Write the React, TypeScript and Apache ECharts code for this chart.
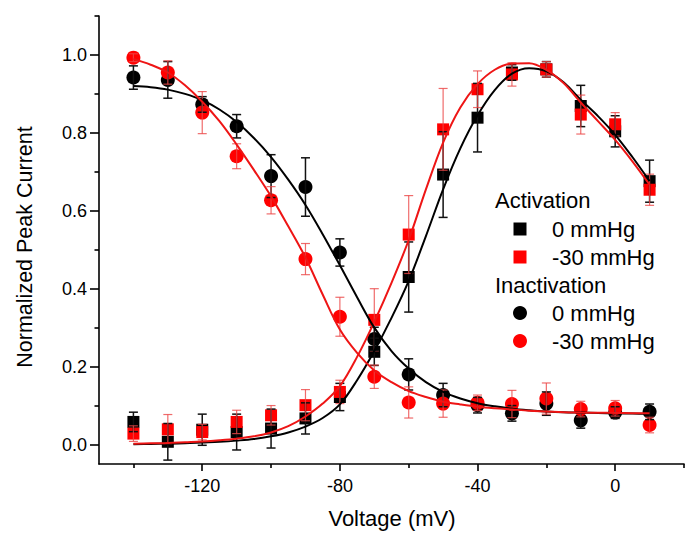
import React, { useEffect, useRef } from "react";
import * as echarts from "echarts";

// Measured voltages (mV)
const voltages = [-140, -130, -120, -110, -100, -90, -80, -70, -60, -50, -40, -30, -20, -10, 0, 10];

// Activation, 0 mmHg (black squares)
const actBlack = [0.058, 0.007, 0.038, 0.032, 0.041, 0.067, 0.122, 0.238, 0.43, 0.693, 0.839, 0.955, 0.963, 0.869, 0.804, 0.676];
const actBlackErr = [0.025, 0.047, 0.04, 0.046, 0.05, 0.04, 0.035, 0.035, 0.09, 0.11, 0.088, 0.02, 0.02, 0.053, 0.04, 0.054];
// Activation, -30 mmHg (red squares)
const actRed = [0.028, 0.039, 0.032, 0.058, 0.075, 0.101, 0.135, 0.32, 0.539, 0.809, 0.912, 0.95, 0.963, 0.847, 0.822, 0.654];
const actRedErr = [0.02, 0.038, 0.02, 0.03, 0.025, 0.04, 0.03, 0.08, 0.1, 0.105, 0.047, 0.03, 0.02, 0.05, 0.03, 0.04];
// Inactivation, 0 mmHg (black circles)
const inactBlack = [0.942, 0.936, 0.873, 0.817, 0.689, 0.661, 0.493, 0.271, 0.18, 0.127, 0.101, 0.08, 0.105, 0.062, 0.082, 0.084];
const inactBlackErr = [0.03, 0.047, 0.02, 0.03, 0.055, 0.075, 0.035, 0.03, 0.04, 0.03, 0.02, 0.02, 0.03, 0.02, 0.015, 0.02];
// Inactivation, -30 mmHg (red circles)
const inactRed = [0.993, 0.955, 0.852, 0.74, 0.627, 0.476, 0.328, 0.174, 0.108, 0.105, 0.107, 0.104, 0.118, 0.091, 0.093, 0.05];
const inactRedErr = [0.01, 0.03, 0.054, 0.032, 0.035, 0.04, 0.05, 0.03, 0.04, 0.035, 0.02, 0.035, 0.04, 0.02, 0.02, 0.02];

// Fitted curves, every 5 mV
const fitVoltages = [-140, -135, -130, -125, -120, -115, -110, -105, -100, -95, -90, -85, -80, -75, -70, -65, -60, -55, -50, -45, -40, -35, -30, -25, -20, -15, -10, -5, 0, 5, 10];
const actBlackFit = [0.001, 0.0015, 0.002, 0.003, 0.005, 0.007, 0.01, 0.014, 0.021, 0.031, 0.046, 0.068, 0.103, 0.165, 0.24, 0.325, 0.42, 0.535, 0.655, 0.76, 0.845, 0.91, 0.952, 0.966, 0.958, 0.93, 0.885, 0.843, 0.795, 0.738, 0.676];
const actRedFit = [0.002, 0.003, 0.004, 0.006, 0.008, 0.011, 0.015, 0.021, 0.031, 0.047, 0.072, 0.105, 0.15, 0.225, 0.315, 0.415, 0.525, 0.655, 0.775, 0.865, 0.925, 0.962, 0.978, 0.979, 0.962, 0.928, 0.878, 0.83, 0.782, 0.727, 0.667];
const inactBlackFit = [0.92, 0.917, 0.911, 0.9, 0.884, 0.86, 0.828, 0.787, 0.738, 0.68, 0.615, 0.54, 0.46, 0.378, 0.3, 0.24, 0.195, 0.16, 0.135, 0.118, 0.106, 0.098, 0.092, 0.088, 0.085, 0.083, 0.082, 0.081, 0.08, 0.0795, 0.079];
const inactRedFit = [0.99, 0.975, 0.955, 0.922, 0.88, 0.83, 0.77, 0.705, 0.637, 0.56, 0.48, 0.385, 0.295, 0.235, 0.19, 0.16, 0.137, 0.122, 0.11, 0.103, 0.097, 0.093, 0.09, 0.087, 0.085, 0.083, 0.082, 0.0815, 0.081, 0.0805, 0.08];

// Axis ticks
const xMajorTicks = [-120, -80, -40, 0];
const xMinorTicks = [-140, -100, -60, -20, 20];
const yMajorTicks = [0, 0.2, 0.4, 0.6, 0.8, 1.0];
const yMinorTicks = [0.1, 0.3, 0.5, 0.7, 0.9, 1.1];

const FONT = '"Liberation Sans", Arial, Helvetica, sans-serif';
const BLACK = "#000000";
const RED = "#ff0000";
const RED_LINE = "#ee1515";
const RED_ERR = "rgba(235,70,70,0.8)";

const pairs = (xs: number[], ys: number[]) => xs.map((x, i) => [x, ys[i]]);
const errData = (xs: number[], ys: number[], es: number[]) =>
  xs.map((x, i) => [x, ys[i] - es[i], ys[i] + es[i]]);

const errorSeries = (data: number[][], color: string, width: number) => ({
  type: "custom",
  data,
  encode: { x: 0, y: [1, 2] },
  xAxisIndex: 0,
  yAxisIndex: 0,
  z: 3,
  silent: true,
  renderItem: (_params: any, api: any) => {
    const x = api.value(0);
    const lo = api.coord([x, api.value(1)]);
    const hi = api.coord([x, api.value(2)]);
    const h = 4.5;
    const style = { stroke: color, lineWidth: width };
    return {
      type: "group",
      children: [
        { type: "line", shape: { x1: lo[0], y1: lo[1], x2: hi[0], y2: hi[1] }, style },
        { type: "line", shape: { x1: lo[0] - h, y1: lo[1], x2: lo[0] + h, y2: lo[1] }, style },
        { type: "line", shape: { x1: hi[0] - h, y1: hi[1], x2: hi[0] + h, y2: hi[1] }, style },
      ],
    };
  },
});

const scatterSeries = (data: number[][], color: string, symbol: string, size: number) => ({
  type: "scatter",
  data,
  symbol,
  symbolSize: size,
  itemStyle: { color, opacity: 1 },
  z: 2,
  silent: true,
});

const lineSeries = (data: number[][], color: string) => ({
  type: "line",
  data,
  smooth: 0.35,
  showSymbol: false,
  symbol: "none",
  lineStyle: { color, width: 2 },
  z: 4,
  silent: true,
});

const legendRows = [
  { kind: "header", text: "Activation", y: 200 },
  { kind: "rect", color: BLACK, text: "0 mmHg", y: 229 },
  { kind: "rect", color: RED, text: "-30 mmHg", y: 257 },
  { kind: "header", text: "Inactivation", y: 285 },
  { kind: "circle", color: BLACK, text: "0 mmHg", y: 313 },
  { kind: "circle", color: RED, text: "-30 mmHg", y: 341 },
];

export default function App() {
  const ref = useRef<HTMLDivElement>(null);

  useEffect(() => {
    document.body.style.margin = "0";
    if (!ref.current) return;
    const chart = echarts.init(ref.current, undefined, { renderer: "svg" });

    const legendGraphics: any[] = [];
    legendRows.forEach((r) => {
      if (r.kind === "header") {
        legendGraphics.push({
          type: "text",
          x: 495,
          y: r.y,
          style: { text: r.text, fontSize: 22, fontFamily: FONT, fill: BLACK, align: "left", verticalAlign: "middle" },
        });
      } else {
        if (r.kind === "rect") {
          legendGraphics.push({
            type: "rect",
            shape: { x: 520 - 6.5, y: r.y - 6.5, width: 13, height: 13 },
            style: { fill: r.color },
          });
        } else {
          legendGraphics.push({
            type: "circle",
            shape: { cx: 520, cy: r.y, r: 7 },
            style: { fill: r.color },
          });
        }
        legendGraphics.push({
          type: "text",
          x: 552,
          y: r.y,
          style: { text: r.text, fontSize: 22, fontFamily: FONT, fill: BLACK, align: "left", verticalAlign: "middle" },
        });
      }
    });

    const axisLine = { show: true, onZero: false, lineStyle: { color: BLACK, width: 1.6 } };

    chart.setOption({
      animation: false,
      backgroundColor: "#ffffff",
      grid: { left: 99, right: 16, top: 16, bottom: 84, containLabel: false, outerBoundsMode: "none" },
      xAxis: [
        {
          type: "value",
          min: -150,
          max: 20,
          position: "bottom",
          axisLine,
          axisTick: { show: true, inside: false, length: 7, customValues: xMajorTicks, lineStyle: { color: BLACK, width: 1.6 } },
          axisLabel: {
            show: true,
            customValues: xMajorTicks,
            margin: 13,
            fontSize: 18,
            fontFamily: FONT,
            color: BLACK,
            formatter: (v: number) => String(Math.round(v)),
          },
          splitLine: { show: false },
        },
        {
          type: "value",
          min: -150,
          max: 20,
          position: "bottom",
          axisLine: { show: false, onZero: false },
          axisTick: { show: true, inside: false, length: 4, customValues: xMinorTicks, lineStyle: { color: BLACK, width: 1.6 } },
          axisLabel: { show: false },
          splitLine: { show: false },
        },
      ],
      yAxis: [
        {
          type: "value",
          min: -0.05,
          max: 1.1,
          position: "left",
          axisLine,
          axisTick: { show: true, inside: false, length: 9, customValues: yMajorTicks, lineStyle: { color: BLACK, width: 1.6 } },
          axisLabel: {
            show: true,
            customValues: yMajorTicks,
            margin: 12,
            fontSize: 18,
            fontFamily: FONT,
            color: BLACK,
            formatter: (v: number) => v.toFixed(1),
          },
          splitLine: { show: false },
        },
        {
          type: "value",
          min: -0.05,
          max: 1.1,
          position: "left",
          axisLine: { show: false, onZero: false },
          axisTick: { show: true, inside: false, length: 4.5, customValues: yMinorTicks, lineStyle: { color: BLACK, width: 1.6 } },
          axisLabel: { show: false },
          splitLine: { show: false },
        },
      ],
      graphic: [
        {
          type: "text",
          x: 392,
          y: 518,
          style: { text: "Voltage (mV)", fontSize: 22, fontFamily: FONT, fill: BLACK, align: "center", verticalAlign: "middle" },
        },
        {
          type: "text",
          x: 25,
          y: 247,
          rotation: Math.PI / 2,
          style: { text: "Normalized Peak Current", fontSize: 21.5, fontFamily: FONT, fill: BLACK, align: "center", verticalAlign: "middle" },
        },
        ...legendGraphics,
      ],
      series: [
        scatterSeries(pairs(voltages, actBlack), BLACK, "rect", 12),
        scatterSeries(pairs(voltages, actRed), RED, "rect", 12),
        scatterSeries(pairs(voltages, inactBlack), BLACK, "circle", 14),
        scatterSeries(pairs(voltages, inactRed), RED, "circle", 14),
        errorSeries(errData(voltages, actBlack, actBlackErr), "#111111", 1.5),
        errorSeries(errData(voltages, actRed, actRedErr), RED_ERR, 1.2),
        errorSeries(errData(voltages, inactBlack, inactBlackErr), "#111111", 1.5),
        errorSeries(errData(voltages, inactRed, inactRedErr), RED_ERR, 1.2),
        lineSeries(pairs(fitVoltages, actBlackFit), BLACK),
        lineSeries(pairs(fitVoltages, actRedFit), RED_LINE),
        lineSeries(pairs(fitVoltages, inactBlackFit), BLACK),
        lineSeries(pairs(fitVoltages, inactRedFit), RED_LINE),
      ],
    });

    return () => chart.dispose();
  }, []);

  return <div ref={ref} style={{ width: 700, height: 548 }} />;
}
